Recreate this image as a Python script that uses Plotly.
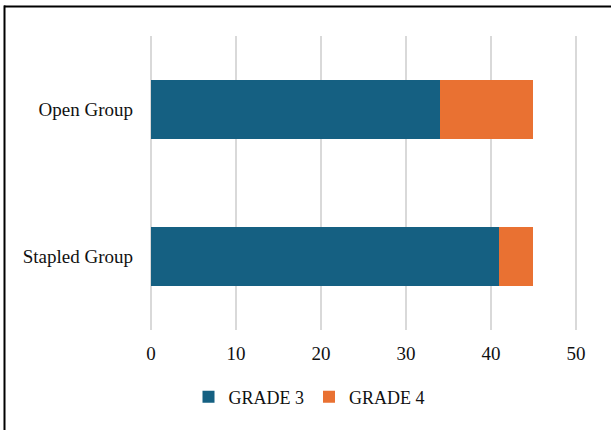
import plotly.graph_objects as go

categories = ["Stapled Group", "Open Group"]
grade3 = [41, 34]
grade4 = [4, 11]
x_ticks = [0, 10, 20, 30, 40, 50]

W, H = 611, 430
x_max = 50.25
L, T, B = 151, 36, 100
R = int(round(W - L - 425 * x_max / 50))
pw, ph = W - L - R, H - T - B

fig = go.Figure()
fig.add_trace(go.Bar(y=categories, x=grade3, name="GRADE 3", orientation="h",
                     marker=dict(color="#156082", line=dict(width=0))))
fig.add_trace(go.Bar(y=categories, x=grade4, name="GRADE 4", orientation="h",
                     marker=dict(color="#E97132", line=dict(width=0))))

def px2x(px):
    return (px - L) / pw

def py2y(py):
    return (H - B - py) / ph

fig.update_layout(
    width=W, height=H,
    barmode="stack", bargap=0.6,
    margin=dict(l=L, r=R, t=T, b=B, pad=0),
    paper_bgcolor="white", plot_bgcolor="white",
    font=dict(family="Liberation Serif, Times New Roman, serif", size=19, color="#111111"),
    xaxis=dict(range=[0, x_max], tickvals=x_ticks, showgrid=True, gridcolor="#d9d9d9",
               gridwidth=2, zeroline=True, zerolinecolor="#d9d9d9", zerolinewidth=2,
               showline=False, ticks="", ticklabelstandoff=10, fixedrange=True),
    yaxis=dict(showgrid=False, zeroline=False, showline=False, ticks="",
               ticklabelstandoff=17, fixedrange=True),
    legend=dict(orientation="h", x=px2x(309), xanchor="center", y=py2y(397), yanchor="middle",
                traceorder="normal", font=dict(size=18), itemwidth=30, itemsizing="constant",
                tracegroupgap=0),
    showlegend=True,
    shapes=[
        dict(type="line", xref="paper", yref="paper", x0=px2x(4), x1=px2x(W + 5),
             y0=py2y(6.5), y1=py2y(6.5), line=dict(color="black", width=2)),
        dict(type="line", xref="paper", yref="paper", x0=px2x(4.5), x1=px2x(4.5),
             y0=py2y(5.5), y1=py2y(H + 5), line=dict(color="black", width=2)),
    ],
)

fig.write_html("out.html", config={"displayModeBar": False})
